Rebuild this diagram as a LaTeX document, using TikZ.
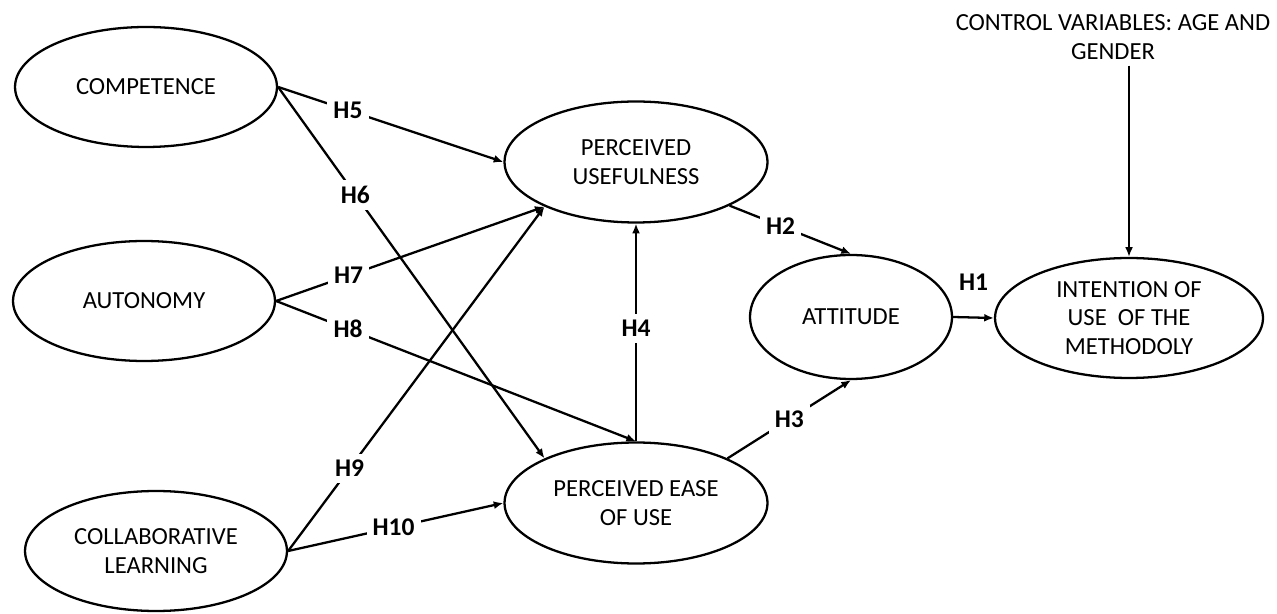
\documentclass[tikz,border=0pt]{standalone}
\usepackage{fontspec}
\setmainfont{Carlito}
\usetikzlibrary{shapes.geometric,arrows.meta}

\begin{document}
\begin{tikzpicture}[x=0.02cm,y=-0.02cm,
  latent/.style={shape=ellipse,draw=black,line width=1.3pt,fill=white,minimum width=5.24cm,minimum height=2.4cm,inner sep=0pt,align=center,font=\fontsize{14}{16.4}\selectfont},
  hyp/.style={fill=white,inner sep=3.5pt,font=\fontsize{14.5}{17}\selectfont\bfseries},
  link/.style={->,line width=1.3pt},
  >={Latex[length=5.5pt,width=4.5pt]}]
\useasboundingbox (0,0) rectangle (1277,614);

\node[latent] (cmp) at (146,87) {COMPETENCE};
\node[latent] (aut) at (144,301) {AUTONOMY};
\node[latent] (col) at (156,551) {COLLABORATIVE\\LEARNING};
\node[latent,minimum width=5.26cm,minimum height=2.42cm] (pu) at (636,162) {PERCEIVED\\USEFULNESS};
\node[latent,minimum width=5.26cm,minimum height=2.42cm] (peou) at (636,503) {PERCEIVED EASE\\OF USE};
\node[latent,minimum width=4.04cm,minimum height=2.48cm] (att) at (851,317) {ATTITUDE};
\node[latent,minimum width=5.36cm,minimum height=2.4cm] (int) at (1129,318) {INTENTION OF\\USE~ OF THE\\METHODOLY};
\node[align=center,font=\fontsize{14}{16.4}\selectfont] (ctrl) at (1113,37) {CONTROL VARIABLES: AGE AND\\GENDER};

\path [link] (cmp.east) edge node[hyp,pos=0.31] {H5} (pu.west);
\path [link] (cmp.east) edge node[hyp,pos=0.29] {H6} (peou.154);
\path [link] (aut.east) edge node[hyp,pos=0.27] {H7} (pu.206);
\path [link] (aut.east) edge node[hyp,pos=0.2] {H8} (peou.north);
\path [link] (col.east) edge node[hyp,pos=0.24] {H9} (pu.206);
\path [link] (col.east) edge node[hyp,pos=0.49] {H10} (peou.west);
\path [link] (peou.north) edge node[hyp,pos=0.52] {H4} (pu.south);
\path [link] (pu.335) edge node[hyp,pos=0.42] {H2} (att.north);
\path [link] (peou.26) edge node[hyp,pos=0.5] {H3} (att.south);
\path [link] (att.east) edge node[hyp,fill=none,above=11pt] {H1} (int.west);
\path [link] (ctrl.south -| int.north) edge (int.north);
\end{tikzpicture}
\end{document}
